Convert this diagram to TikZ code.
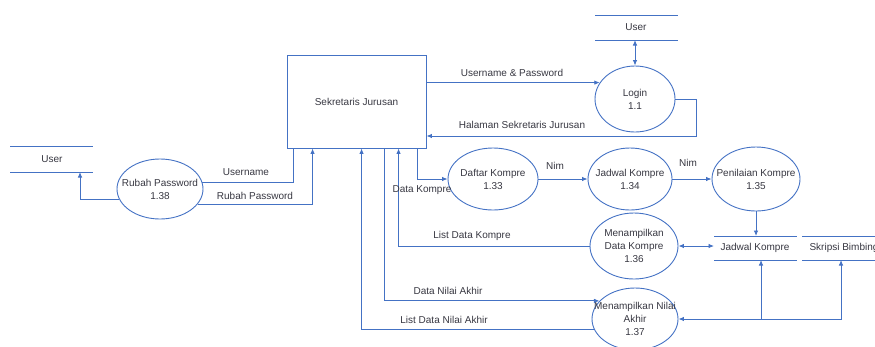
\documentclass[tikz,border=0pt]{standalone}
\usepackage{fontspec}
\setmainfont{Liberation Sans}
\usetikzlibrary{shapes.geometric,arrows.meta}

\definecolor{dfdblue}{RGB}{68,114,196}
\definecolor{dfdtext}{RGB}{55,55,65}

\begin{document}
\begin{tikzpicture}[x=1pt,y=-1pt,>={Latex[length=5.5pt,width=4.5pt]},
  font=\fontsize{10}{13}\selectfont, text=dfdtext,
  flow/.style={draw=dfdblue,line width=0.9pt},
  proc/.style={draw=dfdblue,line width=0.9pt,ellipse,inner sep=0pt},
  entity/.style={draw=dfdblue,line width=0.9pt,rectangle,minimum width=139pt,minimum height=93pt}]
\clip (0,0) rectangle (875,346);
% entity and processes
\node[entity] (sj) at (356.5,101.5) {Sekretaris Jurusan};
\node[proc,minimum width=80pt,minimum height=66pt,label={[align=center]center:Login\\1.1}] (11) at (635,99) {};
\node[proc,minimum width=86pt,minimum height=60pt,label={[align=center]center:Rubah Password\\1.38}] (138) at (160,189) {};
\node[proc,minimum width=90pt,minimum height=62pt,label={[align=center]center:Daftar Kompre\\1.33}] (133) at (493,179) {};
\node[proc,minimum width=84pt,minimum height=62pt,label={[align=center]center:Jadwal Kompre\\1.34}] (134) at (630,179) {};
\node[proc,minimum width=88pt,minimum height=64pt,label={[align=center]center:Penilaian Kompre\\1.35}] (135) at (756,179) {};
\node[proc,minimum width=88pt,minimum height=66pt,label={[align=center]center:Menampilkan\\Data Kompre\\1.36}] (136) at (634,246) {};
\node[proc,minimum width=86pt,minimum height=62pt,label={[align=center]center:Menampilkan Nilai\\Akhir\\1.37}] (137) at (635,319) {};
% data stores
\node (u1) at (52,159) {User};
\draw[flow] (10,146) -- (93,146) (10,172) -- (93,172);
\coordinate (u1b) at (80,172);
\node (u2) at (636,27) {User};
\draw[flow] (595,15) -- (678,15) (595,40) -- (678,40);
\coordinate (u2b) at (635,40);
\node (jk) at (755,248) {Jadwal Kompre};
\draw[flow] (714,236) -- (797,236) (714,260) -- (797,260);
\coordinate (jkt) at (756,236);
\coordinate (jkl) at (714,246);
\coordinate (jkb) at (761,260);
\node[anchor=west] (sb) at (806,248) {Skripsi Bimbingan};
\draw[flow] (802,236) -- (880,236) (802,260) -- (880,260);
\coordinate (sbb) at (841,260);
% flows
\path[flow,->] (138.195) -| (u1b);
\path[flow] (138.9) -| ([xshift=7pt]sj.south west);
\path[flow,->] (138.-22) -| ([xshift=26pt]sj.south west);
\path[flow,->] (sj.east |- 11.155) -- (11.155);
\path[flow,->] (11.east) -- ++(21,0) |- ([yshift=-34.5pt]sj.east);
\path[flow,<->] (u2b) -- (11);
\path[flow,->] ([xshift=131pt]sj.south west) |- (133);
\path[flow,->] (133) -- (134);
\path[flow,->] (134) -- (135);
\path[flow,->] (135) -- (jkt);
\path[flow,<->] (136) -- (jkl);
\path[flow,->] (136) -| ([xshift=112pt]sj.south west);
\path[flow,->] ([xshift=98pt]sj.south west) |- (137.153);
\path[flow,->] (137.195) -| ([xshift=75pt]sj.south west);
\path[flow,<->] (jkb) |- (137);
\path[flow,->] (jkb |- 137) -| (sbb);
% flow labels
\node (f1) at (246,172) {Username};
\node (f2) at (255,196) {Rubah Password};
\node (f3) at (512,73) {Username \& Password};
\node (f4) at (522,125) {Halaman Sekretaris Jurusan};
\node (f5) at (422,190) {Data Kompre};
\node (f6) at (555,166) {Nim};
\node (f7) at (688,163) {Nim};
\node (f8) at (472,236) {List Data Kompre};
\node (f9) at (448,291) {Data Nilai Akhir};
\node (f10) at (444,320) {List Data Nilai Akhir};
\end{tikzpicture}
\end{document}
